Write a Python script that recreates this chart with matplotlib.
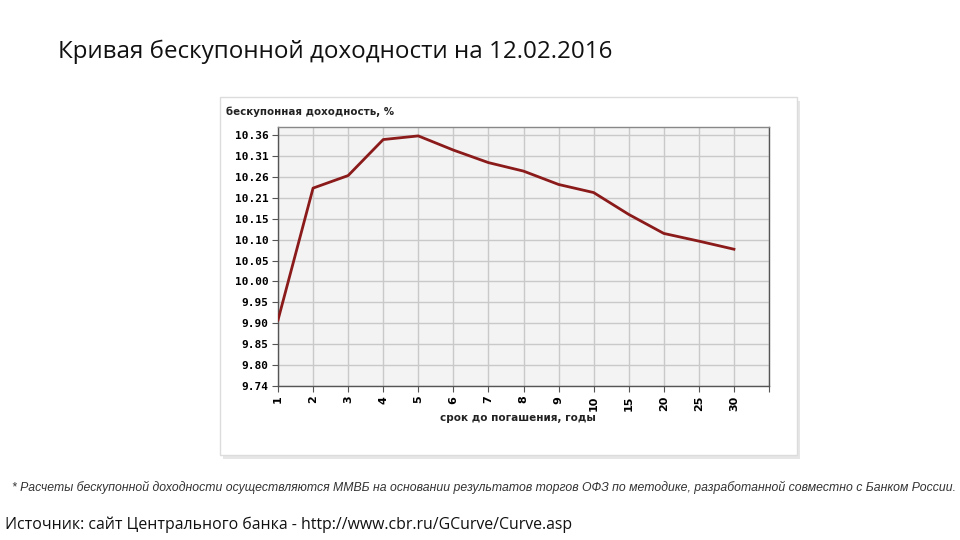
import numpy as np
import matplotlib
matplotlib.use("Agg")
from matplotlib import pyplot as plt
from matplotlib.patches import Rectangle

# maturities (categorical axis) and zero-coupon yields, %
terms = ["1", "2", "3", "4", "5", "6", "7", "8", "9", "10", "15", "20", "25", "30"]
yields = [9.903, 10.229, 10.260, 10.349, 10.358, 10.323, 10.292, 10.271,
          10.238, 10.218, 10.164, 10.117, 10.098, 10.078]

y_tick_labels = ["9.74", "9.80", "9.85", "9.90", "9.95", "10.00", "10.05",
                 "10.10", "10.15", "10.21", "10.26", "10.31", "10.36"]
y_ticks = np.linspace(9.74, 10.36, len(y_tick_labels))

title = "Кривая бескупонной доходности на 12.02.2016"
chart_title = "бескупонная доходность, %"
x_label = "срок до погашения, годы"
footnote = ("* Расчеты бескупонной доходности осуществляются ММВБ на основании "
            "результатов торгов ОФЗ по методике, разработанной совместно с Банком России.")
source = "Источник: сайт Центрального банка - http://www.cbr.ru/GCurve/Curve.asp"

W, H = 960, 540
fig = plt.figure(figsize=(9.6, 5.4), dpi=100)
fig.patch.set_facecolor("white")


def fx(px):
    return px / W


def fy(py):
    return 1 - py / H


# panel with soft shadow
fig.patches.append(Rectangle((fx(223), fy(459)), fx(577), (455 - 97) / H,
                             transform=fig.transFigure, facecolor="#e6e6e6",
                             edgecolor="none", zorder=-2))
fig.patches.append(Rectangle((fx(220), fy(455)), fx(577), (455 - 97) / H,
                             transform=fig.transFigure, facecolor="white",
                             edgecolor="#dcdcdc", linewidth=1, zorder=-1))

ax = fig.add_axes([fx(278), fy(386), fx(769 - 278), (386 - 127) / H])
ax.set_zorder(2)
ax.set_facecolor("#f3f3f3")

x = np.arange(len(terms))
ax.plot(x, yields, color="#8b1a1a", linewidth=2, solid_joinstyle="round", zorder=3)

ax.set_xlim(0, 14)
ax.set_ylim(9.74, 10.38)
ax.set_xticks(np.arange(15))
ax.set_xticklabels(terms + [""], rotation=90, fontweight="bold", fontsize=8)
ax.set_yticks(y_ticks)
ax.set_yticklabels(y_tick_labels, fontweight="bold", fontsize=8,
                   family="DejaVu Sans Mono")
ax.grid(True, color="#c9c9c9", linewidth=1)
ax.set_axisbelow(True)
ax.tick_params(axis="both", length=4, color="#555555", pad=3)
for s in ax.spines.values():
    s.set_color("#555555")
    s.set_linewidth(1)
ax.spines["top"].set_color("#888888")

fig.text(fx(226), fy(112), chart_title, fontsize=7.4, fontweight="bold",
         va="center", ha="left", color="#222222")
fig.text(fx(518), fy(418), x_label, fontsize=7.5, fontweight="bold",
         va="center", ha="center", color="#222222")

fig.text(fx(58), fy(52), title, fontsize=17.4, family="Open Sans",
         va="center", ha="left", color="#111111")
fig.text(fx(12), fy(487), footnote, fontsize=8.8, style="italic",
         family="Liberation Sans", va="center", ha="left", color="#333333")
fig.text(fx(5), fy(525), source, fontsize=11.45, family="Open Sans",
         va="center", ha="left", color="#111111")

fig.savefig("out.png", dpi=100)
